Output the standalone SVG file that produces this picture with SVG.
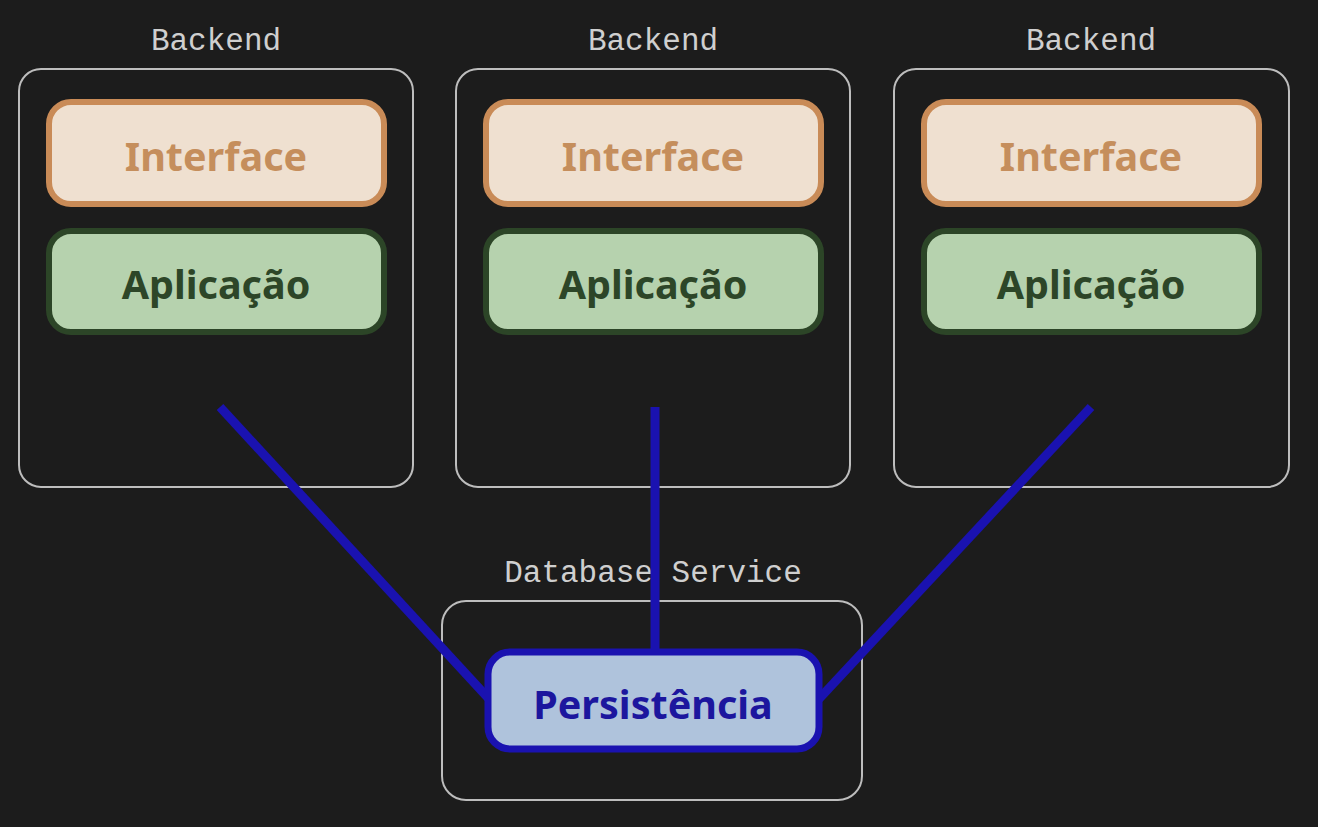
<svg xmlns="http://www.w3.org/2000/svg" width="1318" height="827" viewBox="0 0 1318 827">
<style>
.bg{fill:#1c1c1c}
.cont{fill:none;stroke:#bdbdbd;stroke-width:2}
.lbl{font-family:"Liberation Mono",monospace;font-size:31px;fill:#cfcfcf;text-anchor:middle}
.ifc{fill:#efe0d0;stroke:#c98b57;stroke-width:6}
.app{fill:#b6d2ae;stroke:#2c4527;stroke-width:6}
.per{fill:#afc3dc;stroke:#1a12b0;stroke-width:7}
.t{font-family:"Noto Sans","Open Sans",sans-serif;font-weight:bold;font-size:39.5px;text-anchor:middle}
.ti{fill:#c58e5c}
.ta{fill:#2d4628}
.tp{fill:#1c169e}
.conn{stroke:#1a12b0;stroke-width:9;fill:none;stroke-linecap:butt}
</style>
<rect class="bg" x="0" y="0" width="1318" height="827"/>
<g id="backend1">
<text class="lbl" x="216" y="50">Backend</text>
<rect class="cont" x="19" y="69" width="394" height="418" rx="22"/>
</g>
<g id="backend2">
<text class="lbl" x="653" y="50">Backend</text>
<rect class="cont" x="456" y="69" width="394" height="418" rx="22"/>
</g>
<g id="backend3">
<text class="lbl" x="1091" y="50">Backend</text>
<rect class="cont" x="894" y="69" width="395" height="418" rx="22"/>
</g>
<g id="dbservice">
<text class="lbl" x="653" y="582">Database Service</text>
<rect class="cont" x="442" y="601" width="420" height="199" rx="24"/>
</g>
<g id="connectors">
<line class="conn" x1="220" y1="407" x2="490" y2="700"/>
<line class="conn" x1="655" y1="407" x2="655" y2="652"/>
<line class="conn" x1="1091" y1="407" x2="818" y2="700"/>
</g>
<g id="interface1">
<rect class="ifc" x="49" y="102" width="335" height="102" rx="22"/>
<text class="t ti" x="216" y="171">Interface</text>
</g>
<g id="aplicacao1">
<rect class="app" x="49" y="231" width="335" height="101" rx="22"/>
<text class="t ta" x="216" y="299">Aplicação</text>
</g>
<g id="interface2">
<rect class="ifc" x="486" y="102" width="335" height="102" rx="22"/>
<text class="t ti" x="653" y="171">Interface</text>
</g>
<g id="aplicacao2">
<rect class="app" x="486" y="231" width="335" height="101" rx="22"/>
<text class="t ta" x="653" y="299">Aplicação</text>
</g>
<g id="interface3">
<rect class="ifc" x="924" y="102" width="335" height="102" rx="22"/>
<text class="t ti" x="1091" y="171">Interface</text>
</g>
<g id="aplicacao3">
<rect class="app" x="924" y="231" width="335" height="101" rx="22"/>
<text class="t ta" x="1091" y="299">Aplicação</text>
</g>
<g id="persistencia">
<rect class="per" x="488" y="652" width="331" height="97" rx="22"/>
<text class="t tp" x="653" y="719">Persistência</text>
</g>
</svg>
